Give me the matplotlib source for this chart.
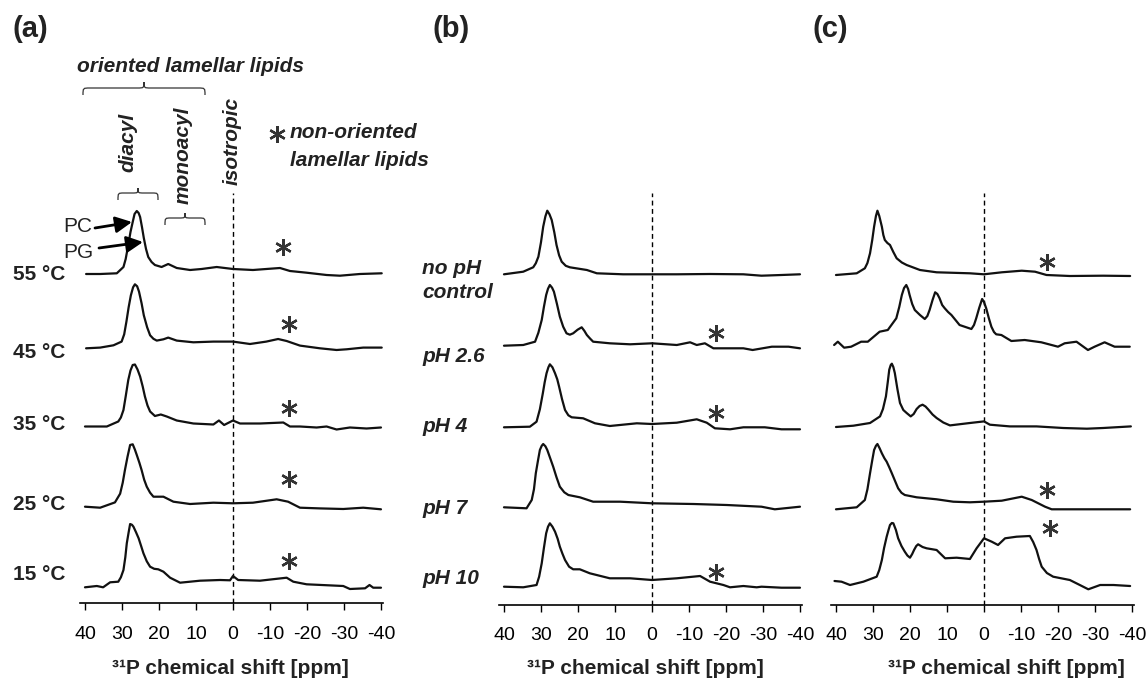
import matplotlib.pyplot as plt
from matplotlib.path import Path
from matplotlib.patches import PathPatch

plt.rcParams["font.family"] = ["Liberation Sans", "DejaVu Sans"]

W, H = 1147, 682
TOP = 193

# ---- panel (a): temperature series, 31P shift [ppm] / intensity [a.u.] ----
temp_labels = ["55 °C", "45 °C", "35 °C", "25 °C", "15 °C"]

ppm_55 = [39.7, 35.9, 31.4, 29.6, 29.0, 28.3, 27.7, 27.1, 26.6, 26.0, 25.5, 25.1, 24.6, 24.1,
          23.5, 22.9, 22.0, 21.1, 19.3, 17.5, 15.2, 11.6, 8.5, 4.4, 0.0, -5.4, -9.0, -12.7,
          -15.4, -19.9, -25.3, -28.9, -34.3, -40.2]
int_55 = [0, 0, 0.7, 7, 15, 29, 42, 52, 60, 63, 61, 57, 47, 36,
          25, 17, 12, 9, 7, 10, 6, 4, 5, 7, 5, 4, 5, 6,
          3, 1.3, -1, -1.7, 0, 0.7]

ppm_45 = [39.7, 35.9, 32.3, 30.1, 29.4, 28.8, 28.2, 27.6, 27.0, 26.5, 25.9, 25.4, 24.7, 24.1,
          23.2, 22.4, 21.5, 20.6, 18.8, 17.5, 15.2, 10.7, 5.3, 0.0, -4.6, -9.0, -12.2, -14.5,
          -18.1, -23.5, -28.0, -30.7, -35.2, -40.2]
int_45 = [0, 0.7, 3, 6.7, 14, 26.7, 41, 53, 61, 64, 62, 56.7, 45, 33,
          21, 13, 9.5, 7.7, 9, 10.7, 7.7, 6, 6.7, 6.7, 4.3, 6.7, 9.3, 7.3,
          2.7, 0, -1.7, -1, 0.7, 0.7]

ppm_35 = [40.0, 34.1, 31.0, 30.3, 29.6, 29.0, 28.3, 27.7, 27.1, 26.5, 25.8, 25.1, 24.4, 23.8,
          23.1, 22.4, 21.1, 19.5, 17.9, 15.2, 10.7, 5.3, 3.8, 2.4, 0.0, -1.9, -7.3, -13.6,
          -15.4, -18.1, -22.6, -25.3, -28.0, -31.6, -36.1, -40.0]
int_35 = [0, 0, 5, 9, 16.5, 30, 46.5, 56, 61.5, 62, 57, 50, 40, 30,
          21, 15, 10.5, 12, 10, 6, 3, 2, 6, 1.5, 6, 3, 3, 4,
          0, 0, -1, 0, -3, -1, -2, -1]

ppm_25 = [40.0, 35.9, 31.9, 30.5, 29.8, 29.2, 28.5, 27.8, 27.1, 26.5, 26.0, 25.3, 24.7, 24.0,
          23.3, 22.4, 21.5, 18.8, 16.1, 11.6, 5.3, 0.0, -5.4, -11.8, -14.9, -18.1, -23.5, -29.8,
          -35.2, -40.0]
int_25 = [0, -1, 4.3, 13, 24, 36.7, 50, 61.7, 62.4, 57, 51.7, 44, 36.7, 27,
          20, 14, 10, 10, 5, 2.7, 4, 3.4, 4, 7.4, 5, -1, -1.7, -2.3,
          -1, -2.6]

ppm_15 = [40.0, 36.8, 35.1, 33.2, 31.0, 30.3, 29.6, 29.1, 28.7, 28.2, 27.8, 27.3, 26.9, 26.2,
          25.5, 24.8, 24.2, 23.3, 22.4, 21.3, 20.2, 18.8, 17.0, 14.3, 8.9, 3.5, 0.8, 0.0,
          -1.4, -7.3, -14.5, -16.3, -19.9, -29.8, -31.6, -35.7, -36.9, -37.9, -40.0]
int_15 = [0, 1.3, 0, 5, 5.6, 10, 17.3, 30, 44, 55, 63.3, 62.5, 60.6, 55,
          49, 41, 34, 26, 20.6, 18.5, 18, 15.6, 9.6, 4.6, 6.6, 7.3, 7, 11.3,
          7.3, 6.6, 9.6, 5.6, 3, 1.3, -1.7, -1, 2.3, -0.4, -0.4]

# ---- panel (b): pH series ----
ph_labels = ["pH 2.6", "pH 4", "pH 7", "pH 10"]

ppm_b_ctrl = [40.0, 34.8, 32.1, 31.4, 30.7, 30.0, 29.4, 28.8, 28.3, 27.7, 27.1, 26.4, 25.8, 25.1,
              24.4, 23.3, 22.2, 17.6, 14.9, 7.8, 0.0, -6.7, -15.7, -24.7, -29.6, -35.0, -40.0]
int_b_ctrl = [0, 2.6, 7, 11, 17.6, 32, 47.6, 58, 63.6, 60, 54.3, 42, 29.3, 19,
              12.6, 8.5, 7, 4.3, 1, 0, 0, 0, 0.3, 0, -1.4, -0.7, 0]

ppm_b_26 = [40.0, 34.8, 31.6, 30.7, 29.8, 29.2, 28.6, 28.1, 27.6, 27.0, 26.5, 25.7, 24.9, 24.0,
            23.1, 22.2, 21.3, 20.1, 19.0, 18.3, 17.6, 16.7, 15.9, 11.4, 5.9, 0.0, -6.7, -10.3,
            -12.1, -14.3, -16.6, -20.2, -24.7, -27.2, -32.4, -36.9, -40.0]
int_b_26 = [0, 0.7, 4, 13, 25.7, 39, 50.7, 57, 60.7, 58, 54, 42, 29, 19,
            12.4, 11, 12.4, 16, 18.4, 15, 10.7, 7, 4, 2.4, 1.4, 2.4, 0.7, 3.4,
            0.7, 2.4, -2.6, -2.6, -2.6, -4.3, -1, -1, -2.6]

ppm_b_4 = [40.0, 33.0, 31.2, 30.3, 29.5, 29.0, 28.5, 28.0, 27.6, 26.9, 26.2, 25.6, 25.1, 24.3,
           23.5, 22.6, 21.7, 18.6, 15.4, 11.4, 4.1, 0.0, -6.7, -12.1, -14.8, -17.0, -21.1, -24.7,
           -30.5, -35.0, -40.0]
int_b_4 = [0, 0.6, 5.6, 18, 34, 45, 54, 60, 63, 60, 54, 48, 40.6, 28,
           17.3, 12, 10, 9, 4, 1.3, 4, 3.3, 4.6, 8, 4.6, -1, -2, 0,
           0, -2, -2]

ppm_b_7 = [40.0, 33.9, 32.5, 31.9, 31.4, 30.8, 30.3, 29.8, 29.4, 28.8, 28.3, 27.5, 26.7, 25.8,
           24.9, 23.7, 22.6, 19.5, 15.9, 8.6, 0.0, -11.2, -20.2, -29.6, -33.2, -40.0]
int_b_7 = [0, -1, 7.3, 18, 34, 47, 57.3, 61.5, 63.3, 61, 57.3, 49, 40.6, 30,
           20.6, 15, 12.3, 10, 5.6, 5.6, 4, 3.3, 2.3, 0.6, -2, 0.6]

ppm_b_10 = [40.0, 34.8, 31.2, 30.5, 29.8, 29.2, 28.6, 28.1, 27.6, 26.9, 26.2, 25.5, 24.9, 24.2,
            23.5, 22.4, 21.3, 19.5, 16.8, 11.4, 5.9, 0.0, -6.7, -13.0, -15.7, -19.3, -21.1, -24.7,
            -28.3, -29.6, -35.0, -40.0]
int_b_10 = [0, -0.6, 1.7, 10, 23.4, 39, 53.4, 60, 63.4, 60, 55, 48, 40, 33,
            26.7, 20, 17.4, 17.4, 13.4, 8.4, 8.4, 6.7, 8.4, 10.7, 5, 1.7, -0.6, 0.7,
            -0.6, 0, -1, -1]

# ---- panel (c) ----
ppm_c1 = [40.0, 34.4, 32.2, 31.5, 30.8, 30.2, 29.7, 29.2, 28.8, 28.3, 27.6, 27.2, 26.8, 26.1,
          25.4, 24.5, 23.6, 22.2, 20.9, 17.3, 12.8, 3.8, 0.0, -4.8, -10.2, -13.8, -16.9, -23.2,
          -32.2, -39.5]
int_c1 = [0, 1.7, 6.7, 12, 21.7, 35, 48.3, 59, 64.3, 59, 48.3, 40, 35, 32,
          30, 23, 16.7, 12.5, 10, 5, 2.7, 1.7, 0.7, 2.7, 4.3, 3.3, 0, -1,
          -0.7, -1]

ppm_c2 = [40.5, 39.5, 37.8, 35.9, 33.2, 31.4, 28.2, 26.0, 23.7, 22.9, 22.2, 21.6, 21.0, 20.5,
          20.1, 19.4, 18.7, 17.3, 16.0, 15.3, 14.7, 13.9, 13.2, 12.6, 12.0, 11.3, 10.6, 9.7,
          8.8, 6.6, 3.4, 2.7, 2.1, 1.3, 0.5, 0.0, -0.6, -1.3, -2.0, -2.7, -3.3, -4.7,
          -7.4, -11.0, -15.5, -20.0, -21.8, -25.0, -28.1, -29.9, -32.6, -35.3, -39.4]
int_c2 = [1, 4.3, -1.7, -0.7, 4.3, 4.3, 14.3, 16, 27.7, 39, 51, 58, 61, 57,
          51, 42, 36, 31, 27, 30, 36, 46, 53.7, 52, 47.7, 41, 37.7, 34,
          31, 21, 17, 21, 27.7, 38, 47, 44, 37.7, 28, 19.3, 14, 11.7, 11,
          5, 6, 3.7, -0.7, 2.7, 4.3, -4, -0.7, 3.7, -0.7, -0.7]

ppm_c3 = [40.0, 35.3, 30.8, 28.1, 27.3, 26.5, 26.0, 25.6, 25.2, 24.9, 24.5, 24.1, 23.4, 22.7,
          21.8, 20.9, 19.8, 19.0, 18.2, 17.4, 16.6, 15.8, 15.0, 13.9, 12.8, 11.0, 9.2, 3.8,
          0.0, -1.6, -7.0, -14.2, -21.4, -27.8, -32.2, -39.7]
int_c3 = [0, 1.3, 4, 10.6, 18, 30.6, 45, 57.3, 62, 63.3, 60, 54, 38, 24,
          17, 14, 10.6, 13, 18, 21, 22.3, 20.5, 17.3, 12.5, 9, 4.5, 1.6, 4,
          5.6, 2.3, 0.6, 0.6, -1, -1.7, -1, 0.6]

ppm_c4 = [40.0, 34.4, 32.2, 31.5, 30.8, 30.2, 29.7, 29.2, 28.8, 28.2, 27.6, 26.9, 26.3, 25.6,
          24.9, 24.0, 23.2, 22.3, 21.4, 18.2, 12.8, 8.3, 3.8, 0.0, -4.8, -10.2, -12.9, -16.5,
          -18.3, -27.3, -39.5]
int_c4 = [0, 2, 9.3, 20, 36, 49, 59.3, 63.5, 65.3, 61, 56, 51, 47.6, 42,
          36, 28, 21, 16.5, 14.3, 12, 10, 7.6, 7, 7.6, 8.6, 12.6, 9.3, 2.6,
          0, 0, 0]

ppm_c5 = [40.4, 38.5, 36.2, 32.6, 29.0, 28.3, 27.6, 27.0, 26.3, 25.8, 25.4, 24.9, 24.5, 23.8,
          23.2, 22.3, 21.4, 20.7, 20.0, 19.4, 18.9, 18.3, 17.8, 16.6, 15.5, 12.8, 10.5, 7.4,
          3.8, 2.0, 0.0, -2.1, -3.8, -5.7, -8.8, -12.4, -13.3, -14.2, -14.9, -15.6, -17.0, -18.7,
          -23.2, -25.9, -28.2, -31.4, -35.0, -39.5]
int_c5 = [2, 1.3, -2, 1.3, 6.3, 13, 23, 35, 46.3, 53, 58, 60, 59.7, 53,
          44.7, 37, 31.3, 27.5, 25.3, 29, 33, 37, 38.7, 36, 34.7, 33, 24.7, 25.3,
          24, 34.7, 44.7, 41.3, 38, 44.7, 46.3, 47, 41, 33, 24, 16.3, 10, 6.3,
          3, -2, -6.3, -2, -2, -3]

# asterisks: (trace index, ppm, height above that trace's baseline)
stars_a = [(0, -13.5, 27.3), (1, -15.2, 24.0), (2, -15.2, 18.8), (3, -15.2, 27.4), (4, -15.2, 26.3)]
stars_b = [(1, -17.2, 12.4), (2, -17.2, 14.0), (4, -17.2, 15.0)]
stars_c = [(0, -17.0, 13.3), (3, -17.0, 19.3), (4, -17.9, 54.7)]

tick_vals = [40, 30, 20, 10, 0, -10, -20, -30, -40]
tick_text = [str(v) for v in tick_vals]

fig = plt.figure(figsize=(W / 100, H / 100), dpi=100)


def spectra_axes(left, right, base, traces, offsets, stars):
    ax = fig.add_axes([left / W, 1 - base / H, (right - left) / W, (base - TOP) / H])
    ax.patch.set_visible(False)
    ax.set_xlim(41.4, -40.6)
    ax.set_ylim(0, base - TOP)
    for s in ["top", "left", "right"]:
        ax.spines[s].set_visible(False)
    ax.spines["bottom"].set_linewidth(1.2)
    ax.set_yticks([])
    ax.set_xticks(tick_vals)
    ax.set_xticklabels(tick_text)
    ax.tick_params(axis="x", direction="out", length=5, width=1, labelsize=14, pad=11)
    ax.axvline(0, color="k", lw=1, ls=(0, (3.5, 2.5)))
    for (x, y), off in zip(traces, offsets):
        ax.plot(x, [v + off for v in y], color="#111111", lw=1.6,
                solid_joinstyle="round", solid_capstyle="round")
    for i, x, h in stars:
        ax.plot(x, offsets[i] + h, marker=(6, 2, 0), ms=12, mew=1.7, color="#333333")
    return ax


spectra_axes(79.8, 383.2, 603.3,
             [(ppm_55, int_55), (ppm_45, int_45), (ppm_35, int_35), (ppm_25, int_25), (ppm_15, int_15)],
             [329.3, 255.0, 176.8, 96.6, 16.0], stars_a)
spectra_axes(498.8, 802.2, 605,
             [(ppm_b_ctrl, int_b_ctrl), (ppm_b_26, int_b_26), (ppm_b_4, int_b_4),
              (ppm_b_7, int_b_7), (ppm_b_10, int_b_10)],
             [330.7, 259.3, 177.7, 97.7, 18.3], stars_b)
spectra_axes(830.8, 1134.2, 605,
             [(ppm_c1, int_c1), (ppm_c2, int_c2), (ppm_c3, int_c3), (ppm_c4, int_c4), (ppm_c5, int_c5)],
             [330.0, 259.0, 178.0, 95.7, 22.0], stars_c)

# overlay in pixel coordinates for labels, braces, arrows
ov = fig.add_axes([0, 0, 1, 1], zorder=5)
ov.set_xlim(0, W)
ov.set_ylim(H, 0)
ov.axis("off")

bi = dict(fontsize=15, fontweight="bold", fontstyle="italic", color="#222222")
for x, s in [(13, "(a)"), (432, "(b)"), (813, "(c)")]:
    ov.text(x, 29, s, fontsize=21, fontweight="bold", va="center", ha="left", color="#222222")

ov.text(77, 66, "oriented lamellar lipids", va="center", ha="left", **bi)
ov.text(128, 142, "diacyl", rotation=90, va="center", ha="center", **bi)
ov.text(183, 155, "monoacyl", rotation=90, va="center", ha="center", **bi)
ov.text(232, 141, "isotropic", rotation=90, va="center", ha="center", **bi)
ov.text(290, 133, "non-oriented", va="center", ha="left", **bi)
ov.text(290, 160, "lamellar lipids", va="center", ha="left", **bi)
ov.plot(277, 134, marker=(6, 2, 0), ms=12, mew=1.7, color="#333333")


def brace(x0, x1, yb, ym, yt, q):
    xc = (x0 + x1) / 2
    verts = [(x0, yb), (x0, ym), (x0, ym), (x0 + q, ym), (xc - q, ym),
             (xc, ym), (xc, ym), (xc, yt),
             (xc, ym), (xc, ym), (xc + q, ym), (x1 - q, ym),
             (x1, ym), (x1, ym), (x1, yb)]
    codes = [Path.MOVETO, Path.CURVE4, Path.CURVE4, Path.CURVE4, Path.LINETO,
             Path.CURVE4, Path.CURVE4, Path.CURVE4,
             Path.CURVE4, Path.CURVE4, Path.CURVE4, Path.LINETO,
             Path.CURVE4, Path.CURVE4, Path.CURVE4]
    ov.add_patch(PathPatch(Path(verts, codes), fill=False, lw=0.9, color="#333333"))


brace(83, 205, 95, 88, 82, 7)
brace(118, 158, 200, 193, 188, 6)
brace(165, 205, 225, 218, 213, 6)

ov.text(63, 227, "PC", fontsize=15, va="center", ha="left", color="#222222")
ov.text(63, 252, "PG", fontsize=15, va="center", ha="left", color="#222222")
arrow = dict(arrowstyle="-|>,head_length=0.7,head_width=0.35", lw=2, color="k",
             shrinkA=0, shrinkB=0, mutation_scale=14)
ov.annotate("", xy=(132, 222), xytext=(95, 228), arrowprops=arrow)
ov.annotate("", xy=(143, 242), xytext=(99, 248), arrowprops=arrow)

for lab, y in zip(temp_labels, [275, 353, 424, 504, 575]):
    ov.text(13, y, lab, fontsize=15, fontweight="bold", va="center", ha="left", color="#222222")

ov.text(422, 268, "no pH", va="center", ha="left", **bi)
ov.text(422, 293, "control", va="center", ha="left", **bi)
for lab, y in zip(ph_labels, [357, 427, 508, 578]):
    ov.text(422, y, lab, va="center", ha="left", **bi)

for x in [230, 645, 1006]:
    ov.text(x, 668, "³¹P chemical shift [ppm]", fontsize=15, fontweight="bold",
            va="center", ha="center", color="#222222")

fig.savefig("out.png", dpi=100)
